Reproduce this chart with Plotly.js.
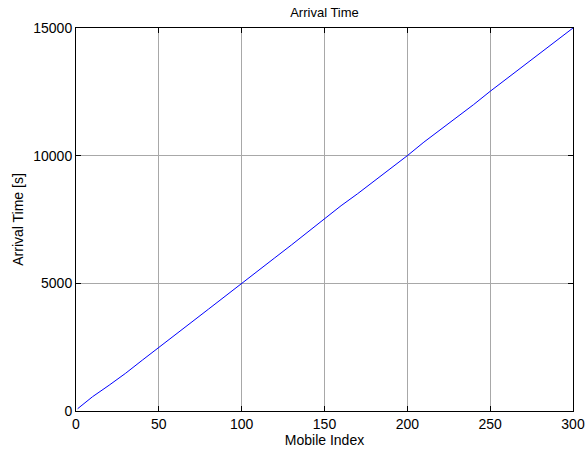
<!DOCTYPE html>
<html>
<head>
<meta charset="utf-8">
<script src="https://cdn.plot.ly/plotly-3.0.1.min.js"></script>
<style>html,body{margin:0;padding:0;background:#fff;}#chart{width:586px;height:455px;}</style>
</head>
<body>
<div id="chart"></div>
<script>
const mobileIndex = [1, 10, 20, 30, 40, 50, 60, 70, 80, 90, 100, 110, 120, 130, 140, 150, 160, 170, 180, 190, 200, 210, 220, 230, 240, 250, 260, 270, 280, 290, 300];
const arrivalTime = [90, 560, 1010, 1480, 1990, 2500, 3010, 3490, 3990, 4500, 5000, 5510, 6000, 6500, 7010, 7550, 8040, 8510, 9000, 9490, 10000, 10530, 11010, 11510, 12000, 12520, 13010, 13500, 14000, 14490, 15000];
const xTicks = [0, 50, 100, 150, 200, 250, 300];
const yTicks = [0, 5000, 10000, 15000];

const font = {family: 'Liberation Sans, Arial, sans-serif', size: 14, color: '#000'};
const axisCommon = {
  showline: true, linecolor: '#000', linewidth: 1, mirror: 'ticks',
  ticks: 'inside', ticklen: 5, tickcolor: '#000', tickwidth: 1,
  showgrid: true, gridcolor: '#a8a8a8', gridwidth: 1,
  zeroline: false, tickfont: font
};
Plotly.newPlot('chart', [{
  x: mobileIndex, y: arrivalTime, type: 'scatter', mode: 'lines',
  line: {color: '#0000ff', width: 1}, hoverinfo: 'skip'
}], {
  width: 586, height: 455,
  margin: {l: 76, r: 13, t: 28, b: 44},
  paper_bgcolor: '#fff', plot_bgcolor: '#fff',
  showlegend: false,
  font: font,
  title: {text: 'Arrival Time', font: {family: font.family, size: 13, color: '#000'}, x: 0.5, xanchor: 'center', xref: 'paper', yref: 'container', y: 0.973, yanchor: 'middle'},
  xaxis: Object.assign({}, axisCommon, {range: [0, 300], tickvals: xTicks, ticktext: xTicks.map(String),
    title: {text: 'Mobile Index', font: {family: font.family, size: 14, color: '#000'}, standoff: 2}}),
  yaxis: Object.assign({}, axisCommon, {range: [0, 15000], tickvals: yTicks, ticktext: yTicks.map(String),
    title: {text: 'Arrival Time [s]', font: {family: font.family, size: 14, color: '#000'}, standoff: 6}})
}, {staticPlot: true});
</script>
</body>
</html>
